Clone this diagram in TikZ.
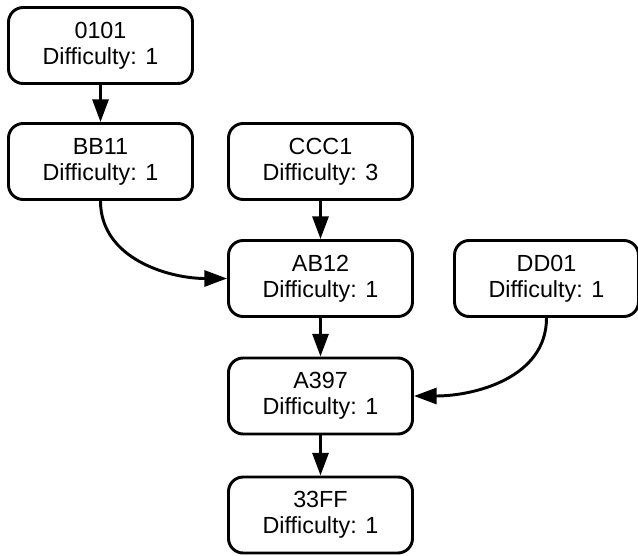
\documentclass[tikz,border=0pt]{standalone}
\usepackage{fontspec}
\setmainfont{Liberation Sans}
\usepackage{tikz}
\usetikzlibrary{arrows.meta}

\begin{document}
\begin{tikzpicture}[x=0.75pt,y=-0.75pt,
  block/.style={draw,line width=2.2pt,rounded corners=11pt,minimum width=138pt,
    minimum height=57pt,align=center,inner sep=2pt,
    font=\fontsize{17.5}{19.5}\selectfont},
  link/.style={-{Triangle[length=17pt,width=12pt]},line width=2.2pt}]
  \useasboundingbox (0,0) rectangle (638,556);
  \node[block] (k0101) at (100.5,45.5) {0101\\Difficulty: 1};
  \node[block] (bb11) at (100.5,161.5) {BB11\\Difficulty: 1};
  \node[block] (ccc1) at (320.5,161.5) {CCC1\\Difficulty: 3};
  \node[block] (ab12) at (320.5,278.5) {AB12\\Difficulty: 1};
  \node[block] (dd01) at (546.5,278.5) {DD01\\Difficulty: 1};
  \node[block] (a397) at (320.5,396) {A397\\Difficulty: 1};
  \node[block] (ff33) at (320.5,515) {33FF\\Difficulty: 1};
  \draw[link] (k0101) -- (bb11);
  \draw[link] (ccc1) -- (ab12);
  \draw[link] (ab12) -- (a397);
  \draw[link] (a397) -- (ff33);
  \draw[link] (bb11.south) to[out=-90,in=180] (ab12.west);
  \draw[link] (dd01.south) to[out=-90,in=0] (a397.east);
\end{tikzpicture}
\end{document}
